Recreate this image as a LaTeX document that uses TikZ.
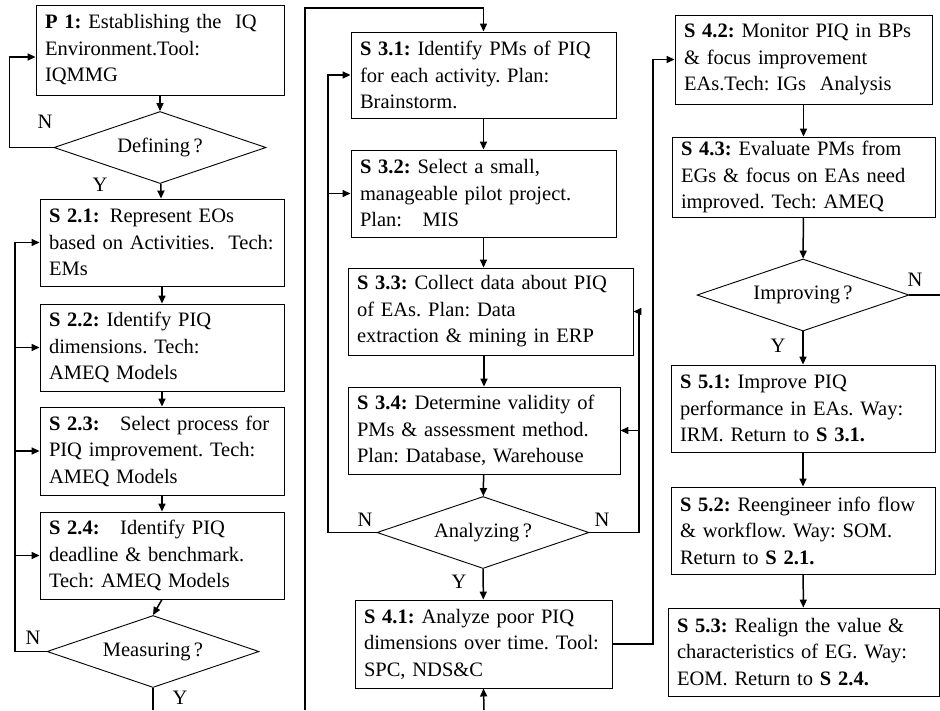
\documentclass[tikz,border=0pt]{standalone}
\usepackage{fontspec}
\setmainfont{Liberation Serif}
\usetikzlibrary{shapes.geometric,arrows.meta}

\begin{document}
\begin{tikzpicture}[x=1pt,y=-1pt,
    every node/.style={font={\fontsize{20.5}{26.5}\selectfont\frenchspacing\hyphenpenalty=10000 \exhyphenpenalty=10000 }},
    stepbox/.style 2 args={draw,line width=0.9pt,align=left,inner xsep=9pt,inner ysep=0pt,text width=#1,minimum height=#2},
    decision/.style={draw,line width=0.9pt,diamond,aspect=3,inner sep=0pt,minimum width=212pt,minimum height=72pt},
    flow/.style={line width=1.5pt,-{Triangle[length=8pt,width=7pt]}},
    plain/.style={line width=1.5pt},
    tag/.style={inner sep=0pt}]
      \useasboundingbox (0,0) rectangle (940,710);

      % column 1
      \node[stepbox={230pt}{90pt}] (p1) at (160,50) {\textbf{P 1:} Establishing the~ IQ\\Environment.Tool:\\IQMMG};
      \node[decision] (def) at (160,147.5) {Defining\,?};
      \node[stepbox={226pt}{87pt}] (s21) at (162,242.5) {\textbf{S 2.1:}\hspace{0.5em}Represent EOs\\based on Activities.~ Tech:\\EMs};
      \node[stepbox={226pt}{87pt}] (s22) at (162,347.5) {\textbf{S 2.2:} Identify PIQ\\dimensions. Tech:\\AMEQ Models};
      \node[stepbox={226pt}{88pt}] (s23) at (162,451) {\textbf{S 2.3:}\hspace{1em}Select process for\\PIQ improvement. Tech:\\AMEQ Models};
      \node[stepbox={226pt}{87pt}] (s24) at (162,555.5) {\textbf{S 2.4:}\hspace{1em}Identify PIQ\\deadline \& benchmark.\\Tech: AMEQ Models};
      \node[decision] (meas) at (153,651.5) {Measuring\,?};

      % column 2
      \node[stepbox={247pt}{86pt}] (s31) at (483.5,75) {\textbf{S 3.1:} Identify PMs of PIQ\\for each activity. Plan:\\Brainstorm.};
      \node[stepbox={247pt}{87pt}] (s32) at (483.5,193.5) {\textbf{S 3.2:} Select a small,\\manageable pilot project.\\Plan:\hspace{1em}MIS};
      \node[stepbox={267pt}{87pt}] (s33) at (490.5,311.5) {\textbf{S 3.3:} Collect data about PIQ\\of EAs. Plan: Data\\extraction \& mining in ERP};
      \node[stepbox={254pt}{87pt}] (s34) at (484,430.5) {\textbf{S 3.4:} Determine validity of\\PMs \& assessment method.\\Plan: Database, Warehouse};
      \node[decision] (ana) at (483,532.5) {Analyzing\,?};
      \node[stepbox={239pt}{88pt}] (s41) at (483.5,644) {\textbf{S 4.1:} Analyze poor PIQ\\dimensions over time. Tool:\\SPC, NDS\&C};

      % column 3
      \node[stepbox={239pt}{89pt}] (s42) at (803.5,59.5) {\textbf{S 4.2:} Monitor PIQ in BPs\\\& focus improvement\\EAs.Tech: IGs~ Analysis};
      \node[stepbox={245pt}{80pt}] (s43) at (803.5,177) {\textbf{S 4.3:} Evaluate PMs from\\EGs \& focus on EAs need\\improved. Tech: AMEQ};
      \node[decision] (imp) at (803,295) {Improving\,?};
      \node[stepbox={246pt}{87pt}] (s51) at (803,408.5) {\textbf{S 5.1:} Improve PIQ\\performance in EAs. Way:\\IRM. Return to \textbf{S 3.1.}};
      \node[stepbox={246pt}{87pt}] (s52) at (803,530.5) {\textbf{S 5.2:} Reengineer info flow\\\& workflow. Way: SOM.\\Return to \textbf{S 2.1.}};
      \node[stepbox={253pt}{88pt}] (s53) at (803.5,652) {\textbf{S 5.3:} Realign the value \&\\characteristics of EG. Way:\\EOM. Return to \textbf{S 2.4.}};

      % Y / N labels
      \node[tag] (nDef) at (45,122) {N};
      \node[tag] (yDef) at (100,185) {Y};
      \node[tag] (nMeas) at (33,638) {N};
      \node[tag] (yMeas) at (180,698) {Y};
      \node[tag] (nAnaL) at (365,520) {N};
      \node[tag] (nAnaR) at (602,520) {N};
      \node[tag] (yAna) at (459,582) {Y};
      \node[tag] (nImp) at (915,280) {N};
      \node[tag] (yImp) at (778,346) {Y};

      % free ends and bus lines
      \coordinate (xl) at (15,0);
      \coordinate (xm) at (328,0);
      \coordinate (xr) at (639,0);
      \coordinate (xs) at (653,0);
      \coordinate (bot1) at (153,710);
      \coordinate (bot2) at (305,710);
      \coordinate (top2) at (305,8);
      \coordinate (bot3) at (484,710);
      \coordinate (edge) at (940,295);

      % column 1 flow
      \draw[flow] (p1) -- (def);
      \draw[flow] (def.west) -- ++(-44,0) |- ([yshift=-7pt]p1.west);
      \draw[flow] (def) -- (s21);
      \draw[flow] (s21) -- (s22);
      \draw[flow] (s22) -- (s23);
      \draw[flow] (s23) -- (s24);
      \draw[flow] (s24.south) -- (meas.north);
      \draw[flow] (meas.west) -- (meas.west -| xl) |- (s21.west);
      \foreach \n in {s22,s23,s24}
        \draw[flow] (\n.west -| xl) -- (\n.west);
      \draw[plain] (meas.south) -- (bot1);

      % column 2 flow
      \draw[flow] (bot2) -- (top2) -| (s31.north);
      \draw[flow] (s31) -- (s32);
      \draw[flow] (s32.south) -- (s32.south |- s33.north);
      \draw[flow] (s33.south -| s34.north) -- (s34.north);
      \draw[flow] (s34) -- (ana);
      \draw[flow] (ana) -- (s41);
      \draw[flow] (ana.west) -- (ana.west -| xm) |- (s31.west);
      \draw[flow] (s32.west -| xm) -- (s32.west);
      \draw[flow] (ana.east) -- (ana.east -| xr) |- (s33.east);
      \draw[flow] (s34.east -| xr) -- (s34.east);
      \draw[flow] (bot3) -- (s41.south);
      \draw[flow] (s41.east) -- (s41.east -| xs) |- (s42.west);

      % column 3 flow
      \draw[flow] (s42) -- (s43);
      \draw[flow] (s43) -- (imp);
      \draw[flow] (imp) -- (s51);
      \draw[flow] (s51) -- (s52);
      \draw[flow] (s52) -- (s53);
      \draw[plain] (imp.east) -- (edge);
    \end{tikzpicture}
\end{document}
